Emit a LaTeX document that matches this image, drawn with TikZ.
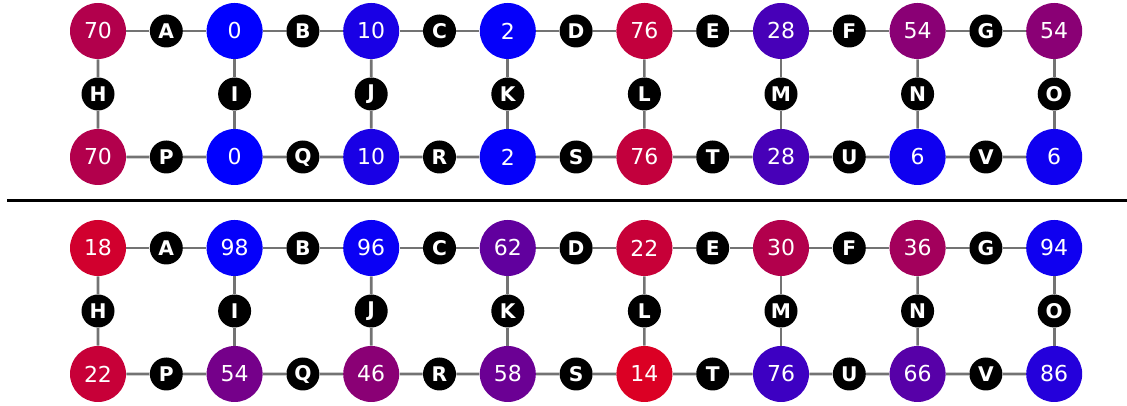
\documentclass[tikz,border=0pt]{standalone}
\usepackage{fontspec}
\setmainfont{DejaVu Sans}
\usetikzlibrary{calc}

\tikzset{
  site/.style={circle, minimum size=1.12cm, inner sep=0pt, text=white,
    font=\fontsize{12.5}{14}\selectfont},
  link/.style={circle, fill=black, minimum size=0.66cm, inner sep=0pt, text=white,
    font=\fontsize{11.5}{13}\selectfont\bfseries},
  bond/.style={draw=black!55, line width=1.5pt}
}

\begin{document}
\begin{tikzpicture}
    \useasboundingbox (0,0) rectangle (22.54,8.12);

    % Rule between the two boards
    \draw[line width=1.8pt] (0.14,4.11) -- (22.54,4.11);

    % Top board: sites coloured red!value!blue
    \foreach \v [count=\i] in {70,0,10,2,76,28,54,54}
        \node[site, fill=red!\v!blue] (au\i) at ({1.96+2.732*(\i-1)},7.5) {\v};
    \foreach \v [count=\i] in {70,0,10,2,76,28,6,6}
        \node[site, fill=red!\v!blue] (ad\i) at ({1.96+2.732*(\i-1)},4.98) {\v};

    % Bottom board: colour scale runs the other way
    \foreach \v [count=\i] in {18,98,96,62,22,30,36,94} {
        \pgfmathtruncatemacro\p{100-\v}
        \node[site, fill=red!\p!blue] (bu\i) at ({1.96+2.732*(\i-1)},3.16) {\v};
    }
    \foreach \v [count=\i] in {22,54,46,58,14,76,66,86} {
        \pgfmathtruncatemacro\p{100-\v}
        \node[site, fill=red!\p!blue] (bd\i) at ({1.96+2.732*(\i-1)},0.64) {\v};
    }

    % Links: A-G along the upper row, H-O down the columns, P-V along the lower row
    \foreach \b in {a,b} {
        \foreach \l [count=\i] in {A,B,C,D,E,F,G} {
            \pgfmathtruncatemacro\j{\i+1}
            \node[link] (\b\l) at ($(\b u\i)!0.5!(\b u\j)$) {\l};
            \draw[bond] (\b u\i) -- (\b\l) -- (\b u\j);
        }
        \foreach \l [count=\i] in {H,I,J,K,L,M,N,O} {
            \node[link] (\b\l) at ($(\b u\i)!0.5!(\b d\i)$) {\l};
            \draw[bond] (\b u\i) -- (\b\l) -- (\b d\i);
        }
        \foreach \l [count=\i] in {P,Q,R,S,T,U,V} {
            \pgfmathtruncatemacro\j{\i+1}
            \node[link] (\b\l) at ($(\b d\i)!0.5!(\b d\j)$) {\l};
            \draw[bond] (\b d\i) -- (\b\l) -- (\b d\j);
        }
    }
\end{tikzpicture}
\end{document}
